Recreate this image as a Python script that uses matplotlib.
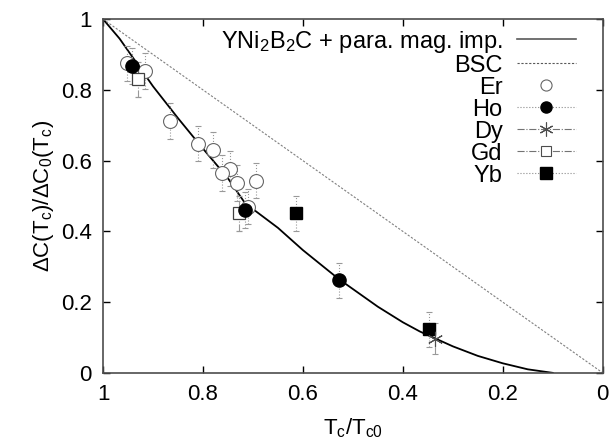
import matplotlib.pyplot as plt
from matplotlib.lines import Line2D

plt.rcParams['font.family'] = ['Liberation Sans', 'DejaVu Sans']
plt.rcParams['mathtext.fontset'] = 'custom'
plt.rcParams['mathtext.rm'] = 'Liberation Sans'
plt.rcParams['mathtext.it'] = 'Liberation Sans'

# theory curve
theory_x = [1.0, 0.967, 0.9, 0.85, 0.806, 0.75, 0.716, 0.65, 0.6, 0.55, 0.528,
            0.5, 0.45, 0.4, 0.366, 0.3, 0.25, 0.2, 0.15, 0.1]
theory_y = [1.0, 0.945, 0.81, 0.72, 0.644, 0.55, 0.48, 0.41, 0.347, 0.29, 0.265,
            0.237, 0.187, 0.143, 0.117, 0.075, 0.048, 0.027, 0.01, 0.0]
bsc_x = [1.0, 0.0]
bsc_y = [1.0, 0.0]

# data points
er_x = [0.953, 0.916, 0.866, 0.81, 0.78, 0.746, 0.761, 0.732, 0.694, 0.71]
er_y = [0.875, 0.853, 0.712, 0.648, 0.63, 0.577, 0.565, 0.537, 0.543, 0.47]
er_e = [0.05, 0.05, 0.05, 0.05, 0.05, 0.05, 0.05, 0.05, 0.05, 0.05]
ho_x = [0.943, 0.715, 0.528]
ho_y = [0.868, 0.46, 0.262]
ho_e = [0.05, 0.05, 0.05]
dy_x = [0.336]
dy_y = [0.097]
dy_e = [0.045]
gd_x = [0.93, 0.728]
gd_y = [0.83, 0.451]
gd_e = [0.05, 0.05]
yb_x = [0.613, 0.348]
yb_y = [0.451, 0.123]
yb_e = [0.05, 0.05]

fig = plt.figure(figsize=(6.1, 4.46), dpi=100)
ax = fig.add_axes([0.169, 0.164, 0.819, 0.793])

ax.plot(theory_x, theory_y, color='black', lw=1.3)
ax.plot(bsc_x, bsc_y, color='0.5', lw=0.8, ls=(0, (2, 1.5)))

ebar = dict(ls='none', ecolor='0.6', elinewidth=0.8, capsize=2, capthick=0.8)

e = ax.errorbar(er_x, er_y, yerr=er_e, marker='o', ms=10, mfc='white', mec='0.4', mew=0.8, **ebar)
e[2][0].set_linestyle(':')
e = ax.errorbar(gd_x, gd_y, yerr=gd_e, marker='s', ms=9, mfc='white', mec='0.25', mew=0.9, **ebar)
e[2][0].set_linestyle('-.')
e = ax.errorbar(ho_x, ho_y, yerr=ho_e, marker='o', ms=9.5, mfc='black', mec='black', **ebar)
e[2][0].set_linestyle(':')
e = ax.errorbar(yb_x, yb_y, yerr=yb_e, marker='s', ms=9, mfc='black', mec='black', **ebar)
e[2][0].set_linestyle(':')
e = ax.errorbar(dy_x, dy_y, yerr=dy_e, marker=(6, 2, 0), ms=11, mec='0.3', mew=0.8, **ebar)
e[2][0].set_linestyle('-.')

handles = [
    Line2D([], [], color='0.35', lw=1.2),
    Line2D([], [], color='0.35', lw=0.8, ls=(0, (2, 1.5))),
    Line2D([], [], ls='none', marker='o', ms=8, mfc='white', mec='0.4', mew=0.8),
    Line2D([], [], color='0.55', lw=0.8, ls=':', marker='o', ms=8, mfc='black', mec='black'),
    Line2D([], [], color='0.45', lw=0.8, ls='-.', marker=(6, 2, 0), ms=10, mec='0.3', mew=0.8),
    Line2D([], [], color='0.45', lw=0.8, ls='-.', marker='s', ms=7, mfc='white', mec='0.3', mew=0.8),
    Line2D([], [], color='0.55', lw=0.8, ls=':', marker='s', ms=8, mfc='black', mec='black'),
]
labels = ['YNi$_2$B$_2$C + para. mag. imp.', 'BSC', 'Er', 'Ho', 'Dy', 'Gd', 'Yb']
ax.legend(handles, labels, loc='upper right', frameon=False, markerfirst=False,
          fontsize=17, handlelength=2.5, handletextpad=0.6, labelspacing=0.0,
          borderaxespad=0.0, bbox_to_anchor=(0.965, 1.0))

ax.set_xlim(1, 0)
ax.set_ylim(0, 1)
ax.set_xticks([1, 0.8, 0.6, 0.4, 0.2, 0])
ax.set_xticklabels(['1', '0.8', '0.6', '0.4', '0.2', '0'])
ax.set_yticks([0, 0.2, 0.4, 0.6, 0.8, 1])
ax.set_yticklabels(['0', '0.2', '0.4', '0.6', '0.8', '1'])
ax.tick_params(direction='in', top=True, right=True, length=5, width=1, labelsize=16, pad=8)
for s in ax.spines.values():
    s.set_linewidth(1.2)
    s.set_color('0.3')

ax.set_xlabel('T$_c$/T$_{c0}$', fontsize=16, labelpad=8)
ax.set_ylabel(r'$\Delta$C(T$_c$)/$\Delta$C$_0$(T$_c$)', fontsize=16, labelpad=4)

fig.savefig('out.png', dpi=100)
